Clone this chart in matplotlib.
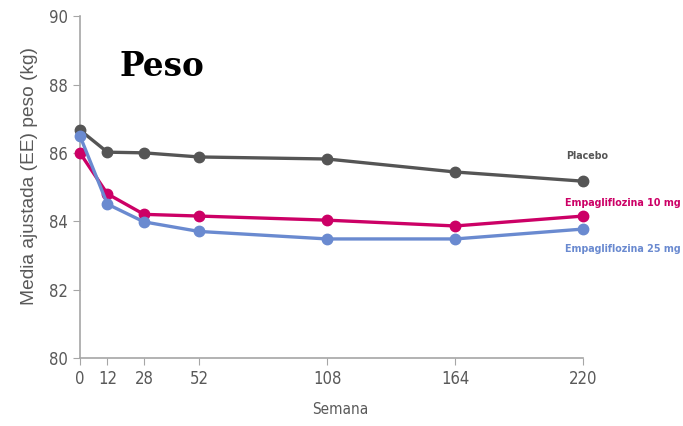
import matplotlib
matplotlib.use('Agg')
import matplotlib.pyplot as plt
from matplotlib import font_manager

# semanas y medias ajustadas de peso (kg)
semanas = [0, 12, 28, 52, 108, 164, 220]
placebo = [86.67, 86.02, 86.0, 85.88, 85.82, 85.44, 85.17]
empa10 = [86.0, 84.8, 84.2, 84.15, 84.03, 83.86, 84.15]
empa25 = [86.5, 84.5, 83.98, 83.7, 83.48, 83.48, 83.77]
err_placebo = [0.12, 0.05, 0.05, 0.06, 0.07, 0.08, 0.1]
err_empa10 = [0.08, 0.05, 0.05, 0.06, 0.07, 0.08, 0.1]
err_empa25 = [0.08, 0.05, 0.05, 0.06, 0.07, 0.08, 0.1]

yticks = [80, 82, 84, 86, 88, 90]

ttf = font_manager.fontManager.ttflist
condensed = [f for f in ttf if f.name == 'DejaVu Sans' and 'ondensed' in f.fname]
NARROW = dict(fontfamily='DejaVu Sans', fontstretch='condensed') if condensed \
    else dict(fontfamily='Liberation Sans')

GRIS = '#555555'
ROSA = '#CC0066'
AZUL = '#6A8AD0'
EJE = '#A6A6A6'
TXT = '#595959'

fig = plt.figure(figsize=(6.83, 4.26), dpi=100)
ax = fig.add_axes([0.117, 0.160, 0.737, 0.802])

series = [
    (placebo, err_placebo, GRIS),
    (empa10, err_empa10, ROSA),
    (empa25, err_empa25, AZUL),
]
for vals, err, col in series:
    ax.errorbar(semanas, vals, yerr=err, color=col, lw=2.4, marker='o',
                markersize=7.5, elinewidth=1, capsize=2, clip_on=False, zorder=3)

ax.set_xlim(0, 220)
ax.set_ylim(80, 90)
ax.set_xticks(semanas)
ax.set_yticks(yticks)

for s in ['top', 'right']:
    ax.spines[s].set_visible(False)
for s in ['left', 'bottom']:
    ax.spines[s].set_color(EJE)
    ax.spines[s].set_linewidth(1.2)
ax.tick_params(direction='out', length=5, color=EJE, labelcolor=TXT,
               labelsize=12)
for lab in ax.get_xticklabels() + ax.get_yticklabels():
    lab.set(**NARROW)

ax.set_xlabel('Semana', fontsize=11, color=TXT, **NARROW)
ax.xaxis.set_label_coords(0.517, -0.13)
ax.set_ylabel('Media ajustada (EE) peso (kg)', fontsize=13.8, color=TXT,
              fontfamily='Liberation Sans')
ax.yaxis.set_label_coords(-0.083, 0.531)

fig.text(0.175, 0.822, 'Peso', fontsize=23.5, fontweight='bold',
         fontfamily='DejaVu Serif', color='black')

etiquetas = [
    ('Placebo', GRIS, 0.829, 0.627),
    ('Empagliflozina 10 mg', ROSA, 0.827, 0.516),
    ('Empagliflozina 25 mg', AZUL, 0.827, 0.408),
]
for texto, col, x, y in etiquetas:
    fig.text(x, y, texto, fontsize=7.7, fontweight='bold', color=col, **NARROW)

fig.savefig('out.png', dpi=100)
